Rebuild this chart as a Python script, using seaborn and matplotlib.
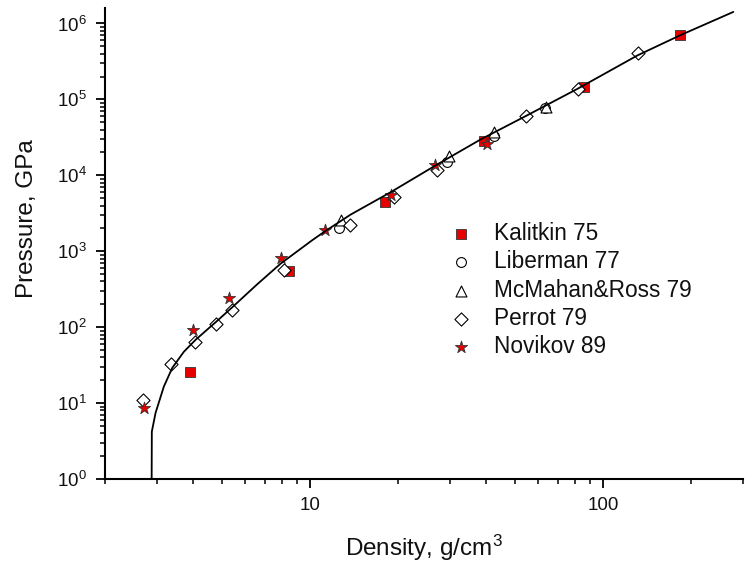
import matplotlib
matplotlib.use("Agg")
import matplotlib.pyplot as plt
from matplotlib.ticker import (LogLocator, FixedLocator, FuncFormatter, NullFormatter,
                               LogFormatterSciNotation)
import seaborn as sns
import numpy as np

# ---- data ----
curve_density = [2.883, 2.889, 2.975, 3.175, 3.392, 3.715, 4.074, 4.767, 5.435, 6.614,
                 7.943, 10.19, 11.3, 13.77, 18.86, 26.8, 38.2, 54.4, 81.8, 131, 183, 278]
curve_pressure = [0.5, 4.21, 7.43, 16.5, 29.1, 47.4, 68.2, 116, 183, 368,
                  686, 1400, 1850, 3040, 6000, 13470, 29660, 60200, 138000, 380000, 698000, 1.42e6]

kalitkin_density = [3.89, 8.48, 18.1, 39.1, 85.8, 183]
kalitkin_pressure = [26, 545, 4420, 28200, 147000, 698000]

liberman_density = [12.57, 29.4, 42.3, 63.5]
liberman_pressure = [2030, 15000, 32800, 76000]

mcmahan_density = [12.8, 29.8, 42.5, 63.8]
mcmahan_pressure = [2600, 17900, 37500, 80000]

perrot_density = [2.70, 3.37, 4.07, 4.77, 5.43, 8.15, 13.66, 19.4, 27.2, 54.4, 81.8, 131]
perrot_pressure = [11.0, 32.6, 62.8, 110, 170, 572, 2244, 5200, 11900, 60200, 138000, 413000]

novikov_density = [2.71, 4.0, 5.29, 7.98, 11.3, 18.96, 26.8, 40.1]
novikov_pressure = [8.6, 90.5, 242, 816, 1928, 5580, 13470, 25500]

labels = ["Kalitkin 75", "Liberman 77", "McMahan&Ross 79", "Perrot 79", "Novikov 89"]
x_major_ticks = [10, 100]

# ---- style ----
sns.set_style("ticks")
plt.rcParams['font.family'] = ['Liberation Sans', 'DejaVu Sans']
plt.rcParams['mathtext.fontset'] = 'custom'
plt.rcParams['mathtext.rm'] = 'Liberation Sans'
plt.rcParams['mathtext.it'] = 'Liberation Sans:italic'
plt.rcParams['mathtext.bf'] = 'Liberation Sans:bold'

fig = plt.figure(figsize=(7.5, 5.62), dpi=100)
ax = fig.add_axes([0.14, 0.1477, 0.8507, 0.8381])
ax.set_xscale('log')
ax.set_yscale('log')

red = '#e60000'
series = [
    (kalitkin_density, kalitkin_pressure, 's', 50, red, '#333333', 0.6),
    (liberman_density, liberman_pressure, 'o', 50, 'white', 'black', 0.8),
    (mcmahan_density, mcmahan_pressure, '^', 62, 'white', 'black', 0.8),
    (perrot_density, perrot_pressure, 'D', 45, 'white', 'black', 0.8),
    (novikov_density, novikov_pressure, '*', 85, red, '#333333', 0.6),
]
for (xd, yd, mk, sz, fc, ec, lw), lab in zip(series, labels):
    sns.scatterplot(x=xd, y=yd, marker=mk, s=sz, color=fc, edgecolor=ec,
                    linewidth=lw, label=lab, ax=ax, zorder=3)

sns.lineplot(x=curve_density, y=curve_pressure, sort=False, estimator=None,
             color='black', linewidth=1.3, ax=ax, zorder=4, legend=False)

ax.set_xlim(2, 300)
ax.set_ylim(1, 1.6e6)

sns.despine(ax=ax)
for sp in ['left', 'bottom']:
    ax.spines[sp].set_linewidth(1.5)
    ax.spines[sp].set_color('black')

ax.xaxis.set_major_locator(FixedLocator(x_major_ticks))
ax.xaxis.set_minor_locator(LogLocator(base=10, subs=np.arange(2, 10), numticks=20))
ax.xaxis.set_major_formatter(FuncFormatter(lambda v, p: f"{v:g}"))
ax.xaxis.set_minor_formatter(NullFormatter())
ax.yaxis.set_major_locator(LogLocator(base=10, numticks=10))
ax.yaxis.set_minor_locator(LogLocator(base=10, subs=np.arange(2, 10), numticks=20))
ax.yaxis.set_major_formatter(LogFormatterSciNotation())
ax.yaxis.set_minor_formatter(NullFormatter())

ax.tick_params(which='major', direction='out', length=6.3, width=1.3, pad=7,
               labelsize=13.5, colors='black', labelcolor='#111111')
ax.tick_params(which='minor', direction='out', length=3.8, width=1.1, colors='black')

ax.set_xlabel("Density, g/cm$^3$", fontsize=17.5, color='#111111', labelpad=13)
ax.set_ylabel("Pressure, GPa", fontsize=17.5, color='#111111')
ax.yaxis.set_label_coords(-0.105, 0.553)

leg = ax.legend(loc='upper left', bbox_to_anchor=(0.5995, 0.605),
                bbox_transform=fig.transFigure, frameon=False, fontsize=16.3,
                handlelength=1.0, handletextpad=0.95, labelspacing=0.235,
                borderpad=0, borderaxespad=0)
for t in leg.get_texts():
    t.set_color('#111111')

fig.savefig("out.png", dpi=100)
